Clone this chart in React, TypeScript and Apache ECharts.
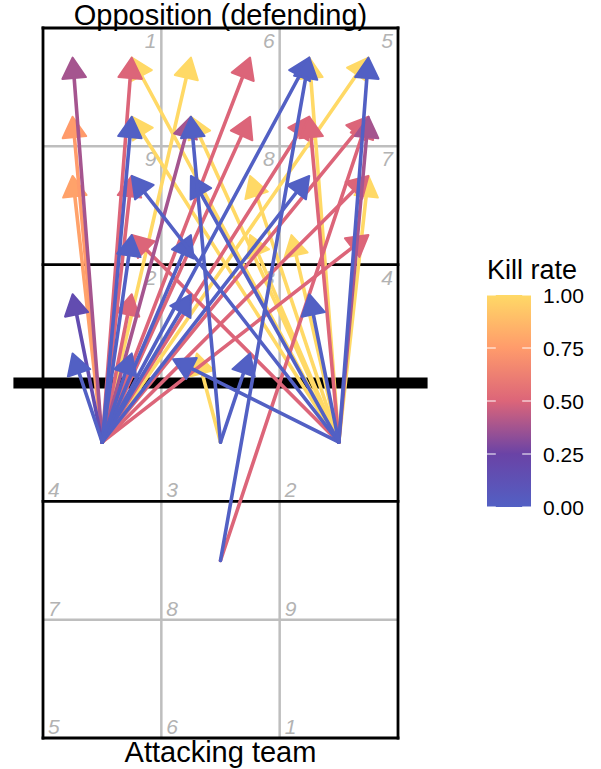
import { useEffect, useRef } from "react";
import * as echarts from "echarts";

// Attack origins (court coordinates: x 0..3 across, y 0..6 from attacking baseline)
const originZone4 = [0.5, 2.5];
const originZone3 = [1.5, 2.5];
const originZone2 = [2.5, 2.5];
const originZone8 = [1.5, 1.5];

// [endX, endY, killRate]
const fromZone4: number[][] = [
  [0.25, 5.75, 0.38],
  [0.75, 5.75, 0.5],
  [1.25, 5.75, 1],
  [1.75, 5.75, 0.5],
  [2.25, 5.75, 0],
  [2.75, 5.75, 1],
  [0.25, 5.25, 0.75],
  [0.75, 5.25, 0],
  [1.25, 5.25, 0.38],
  [1.75, 5.25, 0.5],
  [2.25, 5.25, 0.5],
  [2.75, 5.25, 0.5],
  [0.25, 4.75, 0.78],
  [0.75, 4.75, 0.5],
  [2.25, 4.75, 0],
  [2.75, 4.75, 0.5],
  [0.75, 4.25, 0],
  [1.25, 4.25, 0],
  [2.75, 4.25, 0.5],
  [0.25, 3.75, 0.17],
  [0.75, 3.75, 0.5],
  [1.25, 3.75, 0],
  [0.25, 3.25, 0],
  [0.75, 3.25, 0],
];

const fromZone2: number[][] = [
  [0.75, 5.75, 1],
  [0.75, 5.25, 1],
  [1.25, 5.25, 1],
  [0.75, 4.75, 0],
  [1.25, 4.75, 0],
  [1.75, 4.75, 1],
  [0.75, 4.25, 0.5],
  [1.75, 4.25, 1],
  [2.1, 4.25, 1],
  [1.1, 3.2, 0],
  [2.25, 5.75, 1],
  [2.75, 5.75, 0],
  [2.25, 5.25, 0.5],
  [2.75, 5.25, 0.38],
  [2.75, 4.75, 1],
  [2.25, 3.75, 0],
];

const fromZone3: number[][] = [
  [1.25, 5.25, 0],
  [1.3, 3.25, 1],
  [1.75, 3.25, 0],
];

const fromZone8: number[][] = [
  [2.25, 5.75, 0],
  [2.75, 5.25, 0.5],
];

// Court markings [x0, y0, x1, y1]
const grayLines = [
  [1, 0, 1, 6],
  [2, 0, 2, 6],
  [0, 1, 3, 1],
  [0, 5, 3, 5],
];
const blackLines = [
  [0, 0, 3, 0],
  [0, 6, 3, 6],
  [0, 0, 0, 6],
  [3, 0, 3, 6],
  [0, 2, 3, 2],
  [0, 4, 3, 4],
];
const netLine = [[-0.25, 3, 3.25, 3]];

// Zone labels: attacking half (anchored at cell bottom-left), opposition (cell top-right)
const attackZoneLabels = ["4", "3", "2", "7", "8", "9", "5", "6", "1"];
const attackZoneCorners = [
  [0, 2], [1, 2], [2, 2],
  [0, 1], [1, 1], [2, 1],
  [0, 0], [1, 0], [2, 0],
];
const oppZoneLabels = ["1", "6", "5", "9", "8", "7", "2", "3", "4"];
const oppZoneCorners = [
  [1, 6], [2, 6], [3, 6],
  [1, 5], [2, 5], [3, 5],
  [1, 4], [2, 4], [3, 4],
];

const killRateTicks = [0, 0.25, 0.5, 0.75, 1];
const palette = ["#5260C4", "#6A43A6", "#DC6579", "#FF9B6B", "#FFD966"];

const FONT = "Liberation Sans, Arial, Helvetica, sans-serif";

export default function App() {
  const ref = useRef<HTMLDivElement>(null);

  useEffect(() => {
    if (!ref.current) return;
    const chart = echarts.init(ref.current, undefined, { renderer: "svg" });

    const arrows: number[][] = [];
    const add = (o: number[], list: number[][]) =>
      list.forEach((d) => arrows.push([o[0], o[1], d[0], d[1], d[2]]));
    add(originZone4, fromZone4);
    add(originZone2, fromZone2);
    add(originZone3, fromZone3);
    add(originZone8, fromZone8);
    arrows.sort((a, b) => b[4] - a[4]);

    const courtData = [
      ...grayLines.map((l) => [...l, 0]),
      ...blackLines.map((l) => [...l, 1]),
      ...netLine.map((l) => [...l, 2]),
    ];

    const labelData = [
      ...attackZoneCorners.map((c, i) => [c[0], c[1], 0, i]),
      ...oppZoneCorners.map((c, i) => [c[0], c[1], 1, i]),
    ];

    const option: any = {
      animation: false,
      grid: [
        { left: 43, top: 28, width: 355, height: 710 },
        { left: 487, top: 295, width: 44, height: 212 },
      ],
      xAxis: [
        { gridIndex: 0, type: "value", min: 0, max: 3, show: false },
        { gridIndex: 1, type: "value", min: 0, max: 1, show: false },
      ],
      yAxis: [
        { gridIndex: 0, type: "value", min: 0, max: 6, show: false },
        {
          gridIndex: 1,
          type: "value",
          min: 0,
          max: 1,
          interval: 0.25,
          position: "right",
          axisLine: { show: false },
          axisTick: { show: false },
          splitLine: { show: false },
          axisLabel: {
            margin: 12,
            fontSize: 21,
            color: "#000",
            fontFamily: FONT,
            formatter: (v: number) => v.toFixed(2),
          },
        },
      ],
      visualMap: {
        type: "continuous",
        show: false,
        min: 0,
        max: 1,
        dimension: 4,
        seriesIndex: 2,
        inRange: { color: palette },
      },
      graphic: [
        {
          type: "text",
          x: 220.5,
          y: 15,
          style: {
            text: "Opposition (defending)",
            fontSize: 29,
            fontFamily: FONT,
            fill: "#000",
            align: "center",
            verticalAlign: "middle",
          },
          z: 100,
        },
        {
          type: "text",
          x: 220.5,
          y: 752,
          style: {
            text: "Attacking team",
            fontSize: 29,
            fontFamily: FONT,
            fill: "#000",
            align: "center",
            verticalAlign: "middle",
          },
          z: 100,
        },
        {
          type: "text",
          x: 487,
          y: 270,
          style: {
            text: "Kill rate",
            fontSize: 27,
            fontFamily: FONT,
            fill: "#000",
            align: "left",
            verticalAlign: "middle",
          },
        },
      ],
      series: [
        {
          type: "custom",
          xAxisIndex: 0,
          yAxisIndex: 0,
          clip: false,
          silent: true,
          z: 1,
          data: courtData,
          renderItem: (_p: any, api: any) => {
            const a = api.coord([api.value(0), api.value(1)]);
            const b = api.coord([api.value(2), api.value(3)]);
            const kind = api.value(4);
            const stroke = kind === 0 ? "#BEBEBE" : "#000";
            const lw = kind === 0 ? 2.5 : kind === 1 ? 2.8 : 11;
            return {
              type: "line",
              shape: { x1: a[0], y1: a[1], x2: b[0], y2: b[1] },
              style: { stroke, lineWidth: lw, lineCap: kind === 1 ? "square" : "butt" },
              z2: kind,
            };
          },
        },
        {
          type: "custom",
          xAxisIndex: 0,
          yAxisIndex: 0,
          clip: false,
          silent: true,
          z: 2,
          data: labelData,
          renderItem: (_p: any, api: any) => {
            const side = api.value(2);
            const idx = api.value(3);
            const p = api.coord([api.value(0), api.value(1)]);
            const isOpp = side === 1;
            return {
              type: "text",
              x: isOpp ? p[0] - 5 : p[0] + 5,
              y: isOpp ? p[1] + 2 : p[1] - 1,
              style: {
                text: isOpp ? oppZoneLabels[idx] : attackZoneLabels[idx],
                fontSize: 21,
                fontStyle: "italic",
                fontFamily: FONT,
                fill: "#B3B3B3",
                align: isOpp ? "right" : "left",
                verticalAlign: isOpp ? "top" : "bottom",
              },
            };
          },
        },
        {
          type: "custom",
          xAxisIndex: 0,
          yAxisIndex: 0,
          clip: false,
          silent: true,
          z: 3,
          dimensions: ["x0", "y0", "x1", "y1", "kill"],
          encode: { x: [0, 2], y: [1, 3] },
          data: arrows,
          renderItem: (_p: any, api: any) => {
            const p0 = api.coord([api.value(0), api.value(1)]);
            const p1 = api.coord([api.value(2), api.value(3)]);
            const color = api.visual("color");
            const dx = p1[0] - p0[0];
            const dy = p1[1] - p0[1];
            const len = Math.hypot(dx, dy) || 1;
            const ux = dx / len;
            const uy = dy / len;
            const L = 20.5;
            const W = 11.8;
            const bx = p1[0] - ux * L;
            const by = p1[1] - uy * L;
            const px = -uy;
            const py = ux;
            return {
              type: "group",
              children: [
                {
                  type: "line",
                  shape: { x1: p0[0], y1: p0[1], x2: bx + ux * 3, y2: by + uy * 3 },
                  style: { stroke: color, lineWidth: 3.6, lineCap: "round" },
                },
                {
                  type: "polygon",
                  shape: {
                    points: [
                      [p1[0], p1[1]],
                      [bx + px * W, by + py * W],
                      [bx - px * W, by - py * W],
                    ],
                  },
                  style: { fill: color, stroke: color, lineWidth: 2, lineJoin: "round" },
                },
              ],
            };
          },
        },
        {
          type: "custom",
          xAxisIndex: 1,
          yAxisIndex: 1,
          silent: true,
          clip: false,
          data: [[0, 0]],
          renderItem: (_p: any, api: any) => {
            const a = api.coord([0, 1]);
            const b = api.coord([1, 0]);
            const stops = palette
              .slice()
              .reverse()
              .map((c, i, arr) => ({ offset: i / (arr.length - 1), color: c }));
            const w = b[0] - a[0];
            const tl = w / 5;
            const ticks: any[] = [];
            killRateTicks.forEach((t) => {
              const y = api.coord([0, t])[1];
              ticks.push({
                type: "line",
                shape: { x1: a[0], y1: y, x2: a[0] + tl, y2: y },
                style: { stroke: "#FFFFFF", lineWidth: 1 },
              });
              ticks.push({
                type: "line",
                shape: { x1: b[0] - tl, y1: y, x2: b[0], y2: y },
                style: { stroke: "#FFFFFF", lineWidth: 1 },
              });
            });
            return {
              type: "group",
              children: [
                {
                  type: "rect",
                  shape: { x: a[0], y: a[1], width: w, height: b[1] - a[1] },
                  style: {
                    fill: new echarts.graphic.LinearGradient(0, 0, 0, 1, stops),
                  },
                },
                ...ticks,
              ],
            };
          },
        },
      ],
    };

    chart.setOption(option);
    return () => chart.dispose();
  }, []);

  return (
    <div
      ref={ref}
      style={{ position: "fixed", left: 0, top: 0, width: 601, height: 769, background: "#fff" }}
    />
  );
}
